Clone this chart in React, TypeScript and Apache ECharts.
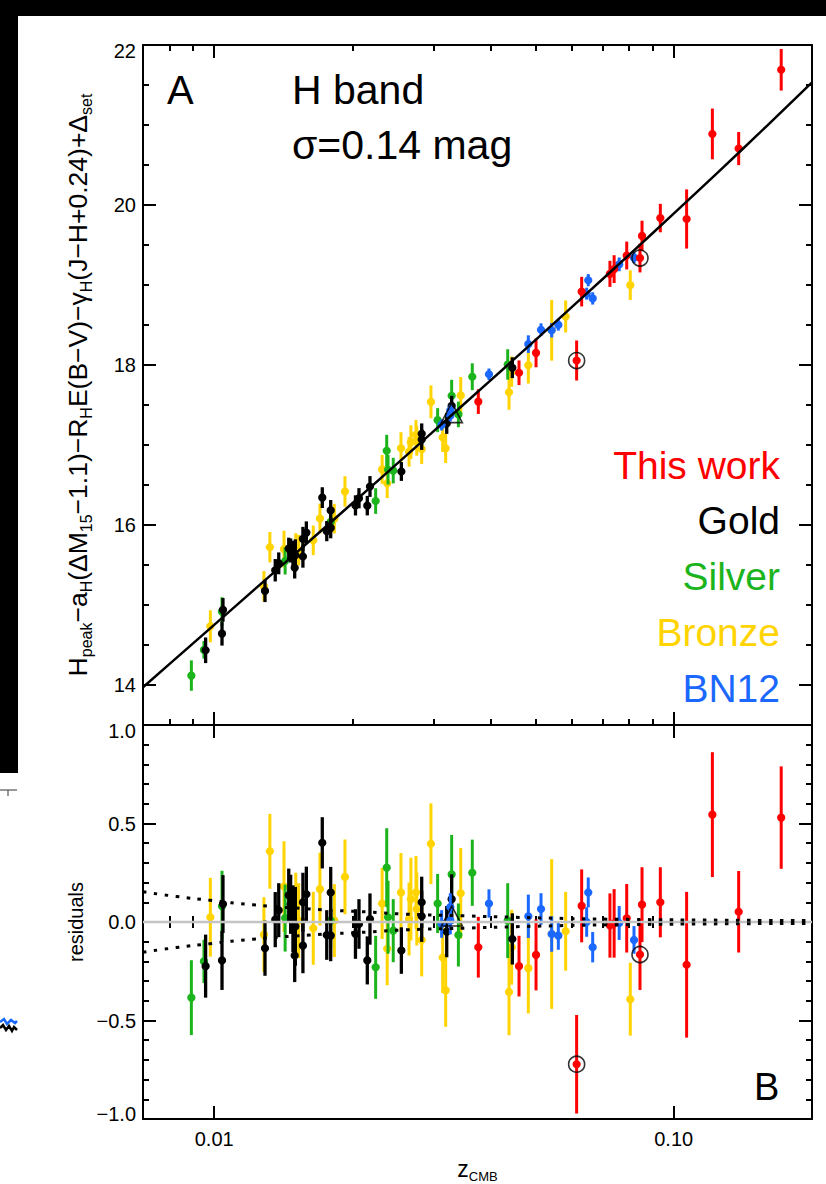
import React, { useEffect, useRef } from 'react';
import * as echarts from 'echarts';

const FONT = '"Liberation Sans", Arial, Helvetica, sans-serif';

// ---------- axis ranges and ticks ----------
const Z_RANGE = [0.007, 0.2];
const X_MAJOR_Z = [0.01, 0.1];
const X_MAJOR_LABELS = ['0.01', '0.10'];
const X_MINOR_Z = [0.008, 0.009, 0.02, 0.03, 0.04, 0.05, 0.06, 0.07, 0.08, 0.09];

const H_RANGE = [13.5, 22];
const H_MAJOR = [14, 16, 18, 20, 22];
const H_LABELS = ['14', '16', '18', '20', '22'];
const H_MINOR = [13.5, 14.5, 15, 15.5, 16.5, 17, 17.5, 18.5, 19, 19.5, 20.5, 21, 21.5];

const RES_RANGE = [-1, 1];
const RES_MAJOR = [-1, -0.5, 0, 0.5, 1];
const RES_LABELS = ['\u22121.0', '\u22120.5', '0.0', '0.5', '1.0'];
const RES_MINOR = [-0.9, -0.8, -0.7, -0.6, -0.4, -0.3, -0.2, -0.1, 0.1, 0.2, 0.3, 0.4, 0.6, 0.7, 0.8, 0.9];

// ---------- data: z_CMB, Hubble residual (mag), 1-sigma error (mag) ----------
const BRONZE_Z = [0.00981, 0.01283, 0.01322, 0.01419, 0.01505, 0.01527, 0.01643, 0.01699, 0.01826, 0.01926, 0.0232, 0.0238, 0.0255, 0.02655, 0.0268, 0.02749, 0.0276, 0.02829, 0.02963, 0.03143, 0.0319, 0.0344, 0.04382, 0.0444, 0.04827, 0.05426, 0.0582, 0.08046];
const BRONZE_RES = [0.024, -0.064, 0.359, 0.18, 0.05, 0.007, -0.032, 0.167, 0.007, 0.229, 0.094, -0.136, 0.15, 0.015, 0.116, 0.15, 0.066, -0.091, 0.397, -0.18, -0.347, 0.146, -0.355, -0.128, -0.234, -0.061, -0.047, -0.392];
const BRONZE_ERR = [0.2, 0.19, 0.19, 0.23, 0.2, 0.19, 0.185, 0.185, 0.185, 0.19, 0.18, 0.185, 0.2, 0.185, 0.21, 0.185, 0.185, 0.185, 0.205, 0.18, 0.185, 0.23, 0.22, 0.19, 0.23, 0.38, 0.2, 0.185];

const SILVER_Z = [0.00892, 0.0095, 0.0104, 0.01427, 0.01793, 0.02246, 0.02374, 0.0239, 0.02453, 0.03064, 0.03287, 0.034, 0.03645, 0.04353];
const SILVER_RES = [-0.384, -0.2, 0.08, 0.02, 0.007, -0.23, 0.276, 0.024, -0.044, 0.094, 0.242, -0.066, 0.25, 0.007];
const SILVER_ERR = [0.19, 0.11, 0.18, 0.17, 0.14, 0.16, 0.2, 0.185, 0.16, 0.15, 0.2, 0.16, 0.168, 0.19];

const GOLD_Z = [0.00958, 0.01045, 0.0104, 0.0129, 0.01358, 0.01382, 0.01453, 0.01467, 0.01484, 0.01502, 0.01497, 0.0156, 0.01587, 0.0156, 0.01719, 0.01758, 0.01793, 0.01793, 0.0203, 0.02066, 0.02154, 0.02183, 0.02555, 0.02829, 0.02829, 0.03207, 0.03287, 0.04455];
const GOLD_RES = [-0.224, 0.091, -0.195, -0.133, 0.012, 0.06, 0.136, 0.09, 0.016, -0.022, -0.17, 0.1, 0.141, -0.12, 0.402, -0.066, 0.15, -0.069, -0.061, -0.01, -0.195, 0.015, -0.145, 0.1, 0.029, -0.049, 0.116, -0.086];
const GOLD_ERR = [0.16, 0.147, 0.15, 0.14, 0.14, 0.137, 0.135, 0.15, 0.17, 0.2, 0.135, 0.15, 0.14, 0.14, 0.13, 0.126, 0.13, 0.13, 0.126, 0.126, 0.122, 0.13, 0.118, 0.13, 0.13, 0.13, 0.126, 0.13];

const BN12_Z = [0.03126, 0.03265, 0.03265, 0.03963, 0.04827, 0.05144, 0.05426, 0.0561, 0.06518, 0.06466, 0.06664, 0.0761, 0.08197];
const BN12_RES = [-0.01, 0.007, 0.076, 0.094, 0.029, 0.066, -0.061, -0.069, 0.15, 0.0, -0.128, -0.005, -0.091];
const BN12_ERR = [0.07, 0.07, 0.07, 0.072, 0.11, 0.08, 0.09, 0.072, 0.076, 0.075, 0.077, 0.086, 0.07];

const WORK_Z = [0.03757, 0.04607, 0.05017, 0.06149, 0.06306, 0.07266, 0.0742, 0.07903, 0.08447, 0.08533, 0.09353, 0.1067, 0.1214, 0.1385, 0.1714];
const WORK_RES = [-0.128, -0.224, -0.167, -0.722, 0.082, -0.018, -0.007, 0.019, -0.165, 0.088, 0.1, -0.217, 0.545, 0.052, 0.53];
const WORK_ERR = [0.154, 0.154, 0.18, 0.25, 0.185, 0.163, 0.174, 0.174, 0.18, 0.19, 0.178, 0.37, 0.317, 0.207, 0.26];

const CIRCLED_Z = [0.06149, 0.08447];
const CIRCLED_RES = [-0.722, -0.165];
const TRIANGLE_Z = [0.0329];
const TRIANGLE_RES = [0.03];

// peculiar-velocity envelope (dotted curves)
const ENV_Z = [0.007, 0.00826, 0.0098, 0.01215, 0.01616, 0.0186, 0.02206, 0.026, 0.03515, 0.04515, 0.058, 0.0745, 0.114, 0.2];
const ENV_RES = [0.153, 0.13, 0.11, 0.087, 0.066, 0.058, 0.05, 0.04, 0.031, 0.024, 0.018, 0.014, 0.01, 0.007];

// fitted Hubble line (zero point and deceleration)
const HUBBLE_ZP = 24.735;
const Q0 = -0.55;
const J0 = 1;
const MODEL_Z = [0.007, 0.008, 0.01, 0.013, 0.017, 0.022, 0.03, 0.04, 0.05, 0.065, 0.08, 0.1, 0.125, 0.16, 0.2];

const COLORS = {
  work: '#ff0000',
  gold: '#000000',
  silver: '#1cb41c',
  bronze: '#ffd400',
  bn12: '#1a68ff',
};

function hubble(z: number) {
  const c2 = (1 - Q0 - 3 * Q0 * Q0 + J0) / 6;
  return 5 * Math.log10(z * (1 + 0.5 * (1 - Q0) * z - c2 * z * z)) + HUBBLE_ZP;
}

const lz = (z: number) => Math.log10(z);
const X_MIN = lz(Z_RANGE[0]);
const X_MAX = lz(Z_RANGE[1]);

function xAxisDef(gridIndex: number, position: string, values: number[], len: number, extra: any = {}) {
  return {
    type: 'value',
    gridIndex,
    position,
    min: X_MIN,
    max: X_MAX,
    axisLine: { show: true, onZero: false, lineStyle: { color: '#000', width: 2 } },
    axisTick: { show: true, inside: true, length: len, customValues: values, lineStyle: { color: '#000', width: 2 } },
    axisLabel: { show: false, customValues: values },
    splitLine: { show: false },
    ...extra,
  };
}

function yAxisDef(gridIndex: number, position: string, range: number[], values: number[], len: number, extra: any = {}) {
  return {
    type: 'value',
    gridIndex,
    position,
    min: range[0],
    max: range[1],
    axisLine: { show: true, onZero: false, lineStyle: { color: '#000', width: 2 } },
    axisTick: { show: true, inside: true, length: len, customValues: values, lineStyle: { color: '#000', width: 2 } },
    axisLabel: { show: false, customValues: values },
    splitLine: { show: false },
    ...extra,
  };
}

const labelRich = {
  t: { fontSize: 20, fontFamily: FONT, color: '#000', padding: [11, 0, 0, 0] },
  b: { fontSize: 20, fontFamily: FONT, color: '#000', padding: [0, 0, 11, 0] },
};

function errSeries(name: string, color: string, zs: number[], res: number[], err: number[], upper: boolean, width: number) {
  return {
    type: 'custom',
    name,
    xAxisIndex: upper ? 0 : 4,
    yAxisIndex: upper ? 0 : 4,
    encode: { x: 0, y: 1 },
    data: zs.map((z, i) => [lz(z), upper ? hubble(z) + res[i] : res[i], err[i]]),
    renderItem: (params: any, api: any) => {
      const x = api.value(0);
      const y = api.value(1);
      const e = api.value(2);
      const p = api.coord([x, y]);
      const lo = api.coord([x, y - e]);
      const hi = api.coord([x, y + e]);
      return {
        type: 'group',
        children: [
          { type: 'line', shape: { x1: p[0], y1: lo[1], x2: p[0], y2: hi[1] }, style: { stroke: color, lineWidth: width } },
          { type: 'circle', shape: { cx: p[0], cy: p[1], r: 4.1 }, style: { fill: color } },
        ],
      };
    },
  };
}

const GROUPS = [
  { name: 'Bronze', color: COLORS.bronze, z: BRONZE_Z, r: BRONZE_RES, e: BRONZE_ERR, w: 3 },
  { name: 'Silver', color: COLORS.silver, z: SILVER_Z, r: SILVER_RES, e: SILVER_ERR, w: 3 },
  { name: 'Gold', color: COLORS.gold, z: GOLD_Z, r: GOLD_RES, e: GOLD_ERR, w: 3.3 },
  { name: 'BN12', color: COLORS.bn12, z: BN12_Z, r: BN12_RES, e: BN12_ERR, w: 3 },
  { name: 'This work', color: COLORS.work, z: WORK_Z, r: WORK_RES, e: WORK_ERR, w: 3 },
];

function buildOption() {
  const xAxis = [
    xAxisDef(0, 'bottom', X_MAJOR_Z.map(lz), 13),
    xAxisDef(0, 'bottom', X_MINOR_Z.map(lz), 6, { axisLine: { show: false } }),
    xAxisDef(0, 'top', X_MAJOR_Z.map(lz), 13),
    xAxisDef(0, 'top', X_MINOR_Z.map(lz), 6, { axisLine: { show: false } }),
    xAxisDef(1, 'bottom', X_MAJOR_Z.map(lz), 13, {
      axisLabel: {
        show: true,
        customValues: X_MAJOR_Z.map(lz),
        margin: 10,
        fontSize: 20,
        fontFamily: FONT,
        color: '#000',
        formatter: (v: number) => {
          const i = X_MAJOR_Z.findIndex((z) => Math.abs(lz(z) - v) < 1e-6);
          return i >= 0 ? X_MAJOR_LABELS[i] : '';
        },
      },
      name: 'z{s|CMB}',
      nameLocation: 'middle',
      nameGap: 36,
      nameTextStyle: {
        fontSize: 23,
        fontFamily: FONT,
        color: '#000',
        lineHeight: 28,
        rich: { s: { fontSize: 13, fontFamily: FONT, color: '#000', lineHeight: 14, verticalAlign: 'bottom' } },
      },
    }),
    xAxisDef(1, 'bottom', X_MINOR_Z.map(lz), 6, { axisLine: { show: false } }),
    xAxisDef(1, 'top', X_MAJOR_Z.map(lz), 13),
    xAxisDef(1, 'top', X_MINOR_Z.map(lz), 6, { axisLine: { show: false } }),
  ];

  const yAxis = [
    yAxisDef(0, 'left', H_RANGE, H_MAJOR, 13, {
      axisLabel: {
        show: true,
        customValues: H_MAJOR,
        margin: 7,
        fontSize: 20,
        fontFamily: FONT,
        color: '#000',
        rich: labelRich,
        formatter: (v: number) => {
          const i = H_MAJOR.findIndex((t) => Math.abs(t - v) < 1e-6);
          const s = i >= 0 ? H_LABELS[i] : '';
          return v === H_RANGE[1] ? `{t|${s}}` : s;
        },
      },
      name: 'H{s|peak}\u2212a{s|H}(\u0394M{s|15}\u22121.1)\u2212R{s|H}E(B\u2212V)\u2212\u03b3{s|H}(J\u2212H+0.24)+\u0394{s|set}',
      nameLocation: 'middle',
      nameRotate: 90,
      nameGap: 49,
      nameTextStyle: {
        fontSize: 26.5,
        fontFamily: FONT,
        color: '#000',
        lineHeight: 33,
        rich: { s: { fontSize: 16, fontFamily: FONT, color: '#000', lineHeight: 17, verticalAlign: 'bottom' } },
      },
    }),
    yAxisDef(0, 'left', H_RANGE, H_MINOR, 6, { axisLine: { show: false } }),
    yAxisDef(0, 'right', H_RANGE, H_MAJOR, 13),
    yAxisDef(0, 'right', H_RANGE, H_MINOR, 6, { axisLine: { show: false } }),
    yAxisDef(1, 'left', RES_RANGE, RES_MAJOR, 13, {
      axisLabel: {
        show: true,
        customValues: RES_MAJOR,
        margin: 7,
        fontSize: 20,
        fontFamily: FONT,
        color: '#000',
        rich: labelRich,
        formatter: (v: number) => {
          const i = RES_MAJOR.findIndex((t) => Math.abs(t - v) < 1e-6);
          const s = i >= 0 ? RES_LABELS[i] : '';
          if (v === RES_RANGE[1]) return `{t|${s}}`;
          if (v === RES_RANGE[0]) return `{b|${s}}`;
          return s;
        },
      },
      name: 'residuals',
      nameLocation: 'middle',
      nameRotate: 90,
      nameGap: 56,
      nameTextStyle: { fontSize: 20, fontFamily: FONT, color: '#000' },
    }),
    yAxisDef(1, 'left', RES_RANGE, RES_MINOR, 6, { axisLine: { show: false } }),
    yAxisDef(1, 'right', RES_RANGE, RES_MAJOR, 13),
    yAxisDef(1, 'right', RES_RANGE, RES_MINOR, 6, { axisLine: { show: false } }),
  ];

  const series: any[] = [];

  // zero line of residual panel
  series.push({
    type: 'line',
    xAxisIndex: 4,
    yAxisIndex: 4,
    data: [[X_MIN, 0], [X_MAX, 0]],
    symbol: 'none',
    lineStyle: { color: '#c4c4c4', width: 2.5 },
    silent: true,
  });
  // dotted envelopes
  [1, -1].forEach((sgn) => {
    series.push({
      type: 'line',
      xAxisIndex: 4,
      yAxisIndex: 4,
      data: ENV_Z.map((z, i) => [lz(z), sgn * ENV_RES[i]]),
      symbol: 'none',
      smooth: true,
      lineStyle: { color: '#000', width: 3, type: [3.5, 7.5] },
      silent: true,
    });
  });
  // Hubble line
  series.push({
    type: 'line',
    xAxisIndex: 0,
    yAxisIndex: 0,
    data: MODEL_Z.map((z) => [lz(z), hubble(z)]),
    symbol: 'none',
    smooth: true,
    lineStyle: { color: '#000', width: 2.5 },
    silent: true,
  });

  GROUPS.forEach((g) => {
    series.push(errSeries(g.name, g.color, g.z, g.r, g.e, true, g.w));
    series.push(errSeries(g.name, g.color, g.z, g.r, g.e, false, g.w));
  });

  // circled and triangle markers
  [true, false].forEach((upper) => {
    series.push({
      type: 'scatter',
      xAxisIndex: upper ? 0 : 4,
      yAxisIndex: upper ? 0 : 4,
      data: CIRCLED_Z.map((z, i) => [lz(z), upper ? hubble(z) + CIRCLED_RES[i] : CIRCLED_RES[i]]),
      symbol: 'circle',
      symbolSize: 16,
      itemStyle: { color: 'rgba(0,0,0,0)', borderColor: '#000', borderWidth: 1.6 },
      silent: true,
    });
    series.push({
      type: 'scatter',
      xAxisIndex: upper ? 0 : 4,
      yAxisIndex: upper ? 0 : 4,
      data: TRIANGLE_Z.map((z, i) => [lz(z), upper ? hubble(z) + TRIANGLE_RES[i] : TRIANGLE_RES[i]]),
      symbol: 'triangle',
      symbolSize: [21, 20],
      itemStyle: { color: 'rgba(0,0,0,0)', borderColor: '#000', borderWidth: 1.6 },
      silent: true,
    });
  });

  const bigText = (text: string, x: number, y: number, color: string, align: string, size: number) => ({
    type: 'text',
    x,
    y,
    silent: true,
    style: { text, fill: color, font: `${size}px ${FONT}`, align, verticalAlign: 'middle' },
  });

  const LEGEND = [
    { name: 'This work', color: COLORS.work },
    { name: 'Gold', color: COLORS.gold },
    { name: 'Silver', color: COLORS.silver },
    { name: 'Bronze', color: COLORS.bronze },
    { name: 'BN12', color: COLORS.bn12 },
  ];

  const graphic: any[] = [
    { type: 'rect', shape: { x: 0, y: 0, width: 826, height: 16 }, style: { fill: '#000' }, silent: true },
    { type: 'rect', shape: { x: 0, y: 0, width: 18, height: 773 }, style: { fill: '#000' }, silent: true },
    { type: 'line', shape: { x1: 0, y1: 790, x2: 17, y2: 790 }, style: { stroke: '#555', lineWidth: 1.2 }, silent: true },
    { type: 'line', shape: { x1: 8, y1: 790, x2: 8, y2: 796 }, style: { stroke: '#555', lineWidth: 1.2 }, silent: true },
    { type: 'polyline', shape: { points: [[0, 1022], [4, 1019], [7, 1024], [11, 1020], [15, 1023], [17, 1021]] }, style: { stroke: COLORS.bn12, lineWidth: 2.5, fill: null }, silent: true },
    { type: 'polyline', shape: { points: [[0, 1028], [3, 1025], [6, 1030], [9, 1026], [12, 1031], [14, 1027], [17, 1030]] }, style: { stroke: '#000', lineWidth: 2.5, fill: null }, silent: true },
    bigText('A', 167, 90, '#000', 'left', 40),
    bigText('H band', 292, 90, '#000', 'left', 41),
    bigText('\u03c3=0.14 mag', 292, 145, '#000', 'left', 41),
    bigText('B', 754, 1087, '#000', 'left', 38),
    ...LEGEND.map((l, i) => bigText(l.name, 780, 465 + i * 55.8, l.color, 'right', 39)),
  ];

  return {
    animation: false,
    backgroundColor: '#ffffff',
    textStyle: { fontFamily: FONT },
    grid: [
      { left: 143, top: 45, width: 669, height: 680, containLabel: false },
      { left: 143, top: 725, width: 669, height: 396, containLabel: false },
    ],
    xAxis,
    yAxis,
    series,
    graphic,
  };
}

export default function App() {
  const ref = useRef<HTMLDivElement>(null);
  useEffect(() => {
    if (!ref.current) return;
    const chart = echarts.init(ref.current, null, { renderer: 'svg' });
    chart.setOption(buildOption() as any);
    return () => chart.dispose();
  }, []);
  return <div ref={ref} style={{ position: 'absolute', left: 0, top: 0, width: 826, height: 1184, background: '#fff' }} />;
}
